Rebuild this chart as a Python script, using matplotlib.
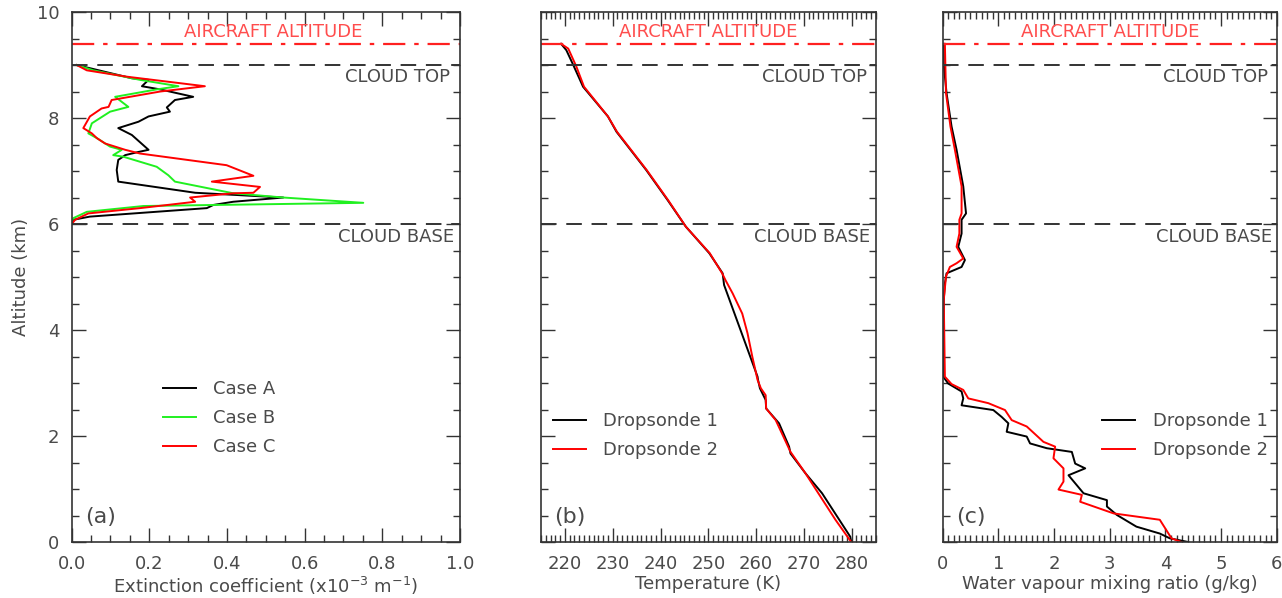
import matplotlib
matplotlib.use('Agg')
import matplotlib.pyplot as plt
from matplotlib.ticker import MultipleLocator, FormatStrFormatter

# 高度 (km)
aircraft_alt = 9.4
cloud_top = 9.0
cloud_base = 6.0

# (a) 消光系数 Case A/B/C
alt_a = [9.0, 8.75, 8.72, 8.60, 8.54, 8.40, 8.34, 8.20, 8.12, 8.03, 7.93, 7.81, 7.68, 7.40, 7.36,
         7.30, 7.21, 7.02, 6.80, 6.59, 6.50, 6.42, 6.36, 6.30, 6.14, 6.08, 6.0]
ext_a = [0.013, 0.155, 0.198, 0.181, 0.228, 0.313, 0.266, 0.245, 0.253, 0.198, 0.172, 0.120, 0.155,
         0.198, 0.172, 0.138, 0.120, 0.116, 0.120, 0.318, 0.545, 0.416, 0.365, 0.348, 0.047, 0.004, 0.0]
alt_b = [9.0, 8.9, 8.72, 8.60, 8.54, 8.40, 8.21, 8.12, 7.90, 7.71, 7.62, 7.46, 7.40, 7.30, 7.27,
         7.08, 6.92, 6.80, 6.58, 6.50, 6.40, 6.34, 6.23, 6.11, 6.04]
ext_b = [0.013, 0.056, 0.176, 0.275, 0.219, 0.112, 0.146, 0.099, 0.052, 0.043, 0.065, 0.099, 0.129,
         0.107, 0.133, 0.219, 0.249, 0.266, 0.416, 0.545, 0.751, 0.185, 0.039, 0.004, 0.0]
alt_c = [9.0, 8.9, 8.78, 8.60, 8.50, 8.34, 8.21, 8.18, 8.03, 7.81, 7.71, 7.62, 7.52, 7.40, 7.33,
         7.11, 6.91, 6.80, 6.70, 6.59, 6.58, 6.50, 6.42, 6.30, 6.20, 6.08, 6.0]
ext_c = [0.013, 0.039, 0.142, 0.343, 0.228, 0.103, 0.095, 0.077, 0.047, 0.030, 0.052, 0.065, 0.086,
         0.138, 0.176, 0.399, 0.468, 0.361, 0.485, 0.468, 0.416, 0.305, 0.318, 0.176, 0.043, 0.009, 0.0]

# (b) 温度
alt_t1 = [9.40, 9.28, 9.01, 8.59, 8.03, 7.74, 7.02, 6.45, 5.95, 5.45, 5.07, 4.85, 3.12, 3.06, 2.90,
          2.68, 2.52, 2.24, 1.80, 1.67, 1.30, 0.92, 0.10, 0.0]
temp_1 = [219.2, 220.3, 221.7, 223.8, 229.0, 230.8, 237.0, 241.5, 245.3, 250.2, 253.0, 253.3, 260.3,
          260.4, 260.8, 262.0, 262.1, 264.8, 266.9, 267.2, 270.3, 273.8, 279.7, 279.9]
alt_t2 = [9.40, 9.31, 8.97, 8.59, 8.03, 7.74, 7.02, 6.45, 5.95, 5.45, 5.07, 4.94, 4.69, 4.31, 3.94,
          3.50, 3.06, 2.90, 2.77, 2.52, 2.30, 1.70, 1.30, 0.42, 0.0]
temp_2 = [219.2, 220.7, 222.4, 224.0, 229.0, 230.9, 237.1, 241.6, 245.3, 250.3, 252.9, 253.6, 255.1,
          257.1, 258.2, 259.2, 260.3, 261.0, 262.0, 262.1, 264.1, 267.2, 270.3, 276.6, 279.9]

# (c) 水汽混合比
alt_q1 = [9.40, 9.0, 8.47, 7.84, 7.40, 6.71, 6.20, 6.08, 5.82, 5.57, 5.32, 5.19, 5.07, 4.88, 4.57,
          3.12, 2.99, 2.84, 2.71, 2.58, 2.49, 2.36, 2.24, 2.08, 1.99, 1.86, 1.77, 1.70, 1.48, 1.39,
          1.26, 0.92, 0.79, 0.67, 0.51, 0.29, 0.16, 0.07, 0.0]
q_1 = [0.02, 0.02, 0.07, 0.16, 0.25, 0.37, 0.42, 0.34, 0.34, 0.28, 0.40, 0.34, 0.07, 0.04, 0.02,
       0.01, 0.10, 0.34, 0.37, 0.34, 0.91, 1.06, 1.18, 1.15, 1.51, 1.57, 1.87, 2.32, 2.38, 2.56,
       2.26, 2.53, 2.95, 2.95, 3.13, 3.48, 3.90, 4.08, 4.41]
alt_q2 = [9.40, 8.47, 7.84, 7.40, 6.71, 6.20, 6.08, 5.82, 5.57, 5.35, 5.26, 5.19, 5.01, 4.57, 3.12,
          2.98, 2.87, 2.71, 2.62, 2.49, 2.30, 2.18, 1.89, 1.80, 1.58, 1.39, 1.14, 0.99, 0.89, 0.76,
          0.54, 0.42, 0.07, 0.0]
q_2 = [0.04, 0.06, 0.14, 0.22, 0.34, 0.34, 0.30, 0.30, 0.25, 0.37, 0.25, 0.13, 0.06, 0.02, 0.04,
       0.16, 0.37, 0.46, 0.82, 1.12, 1.24, 1.51, 1.81, 2.02, 1.99, 2.17, 2.17, 2.08, 2.50, 2.47,
       3.07, 3.90, 4.11, 4.29]

plt.rcParams['font.family'] = ['DejaVu Sans']
plt.rcParams['font.size'] = 13
txt_col = '#4a4a4a'

fig = plt.figure(figsize=(12.82, 5.98), dpi=100)
ax_a = fig.add_axes([0.0559, 0.0936, 0.3029, 0.8863])
ax_b = fig.add_axes([0.4220, 0.0936, 0.2610, 0.8863])
ax_c = fig.add_axes([0.7353, 0.0936, 0.2606, 0.8863])

leg_kw = dict(loc='upper left', frameon=False, handlelength=1.85, handletextpad=0.95,
              labelspacing=0.6, fontsize=13, labelcolor=txt_col, borderaxespad=0, borderpad=0)


def style_axis(ax, xlim, xmaj, xmin, label, show_y):
    ax.set_xlim(xlim)
    ax.set_ylim(0, 10)
    ax.xaxis.set_major_locator(MultipleLocator(xmaj))
    ax.xaxis.set_minor_locator(MultipleLocator(xmin))
    ax.yaxis.set_major_locator(MultipleLocator(2))
    ax.yaxis.set_minor_locator(MultipleLocator(0.5))
    ax.tick_params(which='both', direction='in', top=True, right=True, color='#333333',
                   labelcolor=txt_col, labelsize=13, pad=9)
    ax.tick_params(which='major', length=10, width=1.0)
    ax.tick_params(which='minor', length=5, width=1.0)
    if not show_y:
        ax.set_yticklabels([])
    for sp in ax.spines.values():
        sp.set_color('#333333')
        sp.set_linewidth(1.2)
    ax.set_xlabel(label, color=txt_col, fontsize=13, labelpad=2)
    # 参考线
    ax.axhline(aircraft_alt, color='#ff2020', lw=1.6, dashes=(10, 4, 2, 4))
    ax.axhline(cloud_top, color='#333333', lw=1.4, dashes=(8, 5))
    ax.axhline(cloud_base, color='#333333', lw=1.4, dashes=(8, 5))
    ax.text(0.52 if show_y else 0.5, 9.63, 'AIRCRAFT ALTITUDE', transform=ax.get_yaxis_transform(),
            ha='center', va='center', color='#ff4d4d', fontsize=13)
    ax.text(0.975, 8.77, 'CLOUD TOP', transform=ax.get_yaxis_transform(),
            ha='right', va='center', color=txt_col, fontsize=13)
    ax.text(0.985, 5.75, 'CLOUD BASE', transform=ax.get_yaxis_transform(),
            ha='right', va='center', color=txt_col, fontsize=13)


# (a)
ax_a.plot(ext_a, alt_a, color='black', lw=1.4, label='Case A')
ax_a.plot(ext_b, alt_b, color='#20f020', lw=1.4, label='Case B')
ax_a.plot(ext_c, alt_c, color='#ff0000', lw=1.4, label='Case C')
style_axis(ax_a, (0, 1.0), 0.2, 0.05, 'Extinction coefficient (x10$^{-3}$ m$^{-1}$)', True)
ax_a.xaxis.set_major_formatter(FormatStrFormatter('%.1f'))
ax_a.set_ylabel('Altitude (km)', color=txt_col, fontsize=13, labelpad=5)
ax_a.legend(bbox_to_anchor=(0.235, 0.305), **leg_kw)
ax_a.text(0.075, 0.47, '(a)', transform=ax_a.get_yaxis_transform(), ha='center', va='center',
          color=txt_col, fontsize=16)

# (b)
ax_b.plot(temp_1, alt_t1, color='black', lw=1.4, label='Dropsonde 1')
ax_b.plot(temp_2, alt_t2, color='#ff0000', lw=1.4, label='Dropsonde 2')
style_axis(ax_b, (215, 285), 10, 1, 'Temperature (K)', False)
ax_b.legend(bbox_to_anchor=(0.035, 0.245), **leg_kw)
ax_b.text(0.085, 0.47, '(b)', transform=ax_b.get_yaxis_transform(), ha='center', va='center',
          color=txt_col, fontsize=16)

# (c)
ax_c.plot(q_1, alt_q1, color='black', lw=1.4, label='Dropsonde 1')
ax_c.plot(q_2, alt_q2, color='#ff0000', lw=1.4, label='Dropsonde 2')
style_axis(ax_c, (0, 6), 1, 0.1, 'Water vapour mixing ratio (g/kg)', False)
ax_c.legend(bbox_to_anchor=(0.477, 0.245), **leg_kw)
ax_c.text(0.085, 0.47, '(c)', transform=ax_c.get_yaxis_transform(), ha='center', va='center',
          color=txt_col, fontsize=16)

plt.savefig('out.png', dpi=100)
